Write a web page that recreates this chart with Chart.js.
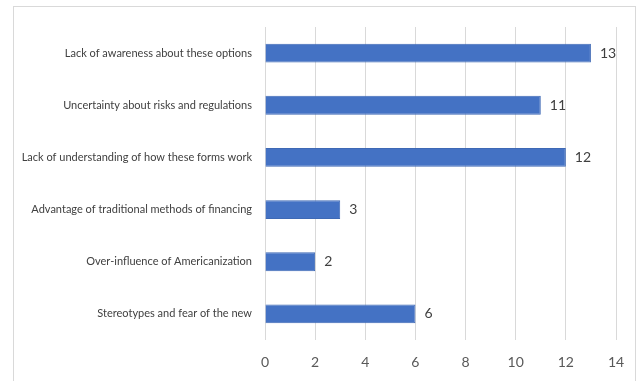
<!DOCTYPE html>
<html>
<head>
<meta charset="utf-8">
<script src="https://cdn.jsdelivr.net/npm/chart.js@4"></script>
<style>
  html, body { margin: 0; padding: 0; background: #fff; }
  #wrap { position: relative; width: 640px; height: 381px; overflow: hidden; }
  #frame { position: absolute; left: 13px; top: 6px; width: 623px; height: 400px; border: 1px solid #d9d9d9; box-sizing: border-box; }
  canvas { position: absolute; left: 0; top: 0; }
</style>
</head>
<body>
<div id="wrap">
  <div id="frame"></div>
  <canvas id="myChart" width="640" height="381"></canvas>
</div>
<script>
var categories = [
  'Lack of awareness about these options',
  'Uncertainty about risks and regulations',
  'Lack of understanding of how these forms work',
  'Advantage of traditional methods of financing',
  'Over-influence of Americanization',
  'Stereotypes and fear of the new'
];
var counts = [13, 11, 12, 3, 2, 6];
var xTicks = [0, 2, 4, 6, 8, 10, 12, 14];

const fontName = "Lato, sans-serif";

// draw the value next to each bar, no datalabels plugin available offline
const barValues = {
  id: 'barValues',
  afterDatasetsDraw(chart) {
    const c = chart.ctx;
    c.save();
    c.font = '14px ' + fontName;
    c.fillStyle = '#404040';
    c.textBaseline = 'middle';
    c.textAlign = 'left';
    chart.getDatasetMeta(0).data.forEach((bar, i) => {
      c.fillText(counts[i], bar.x + 9, bar.y);
    });
    c.restore();
  }
};

const ctx = document.getElementById('myChart').getContext('2d');
const myChart = new Chart(ctx, {
  type: 'bar',
  data: {
    labels: categories,
    datasets: [{
      data: counts,
      backgroundColor: '#4472C4',
      borderColor: '#3e69b5',
      borderWidth: 1,
      barPercentage: 0.36,
      categoryPercentage: 1
    }]
  },
  plugins: [barValues],
  options: {
    indexAxis: 'y',
    responsive: false,
    animation: false,
    layout: { padding: { top: 27, right: 24, left: 0, bottom: 0 } },
    plugins: {
      legend: { display: false },
      tooltip: { enabled: false }
    },
    scales: {
      x: {
        min: 0,
        max: 14,
        afterBuildTicks: (axis) => { axis.ticks = xTicks.map(v => ({ value: v })); },
        afterFit: (axis) => { axis.height = 41; },
        grid: { color: '#d9d9d9', drawTicks: false },
        border: { display: false },
        ticks: { color: '#595959', padding: 14, font: { size: 14, family: fontName } }
      },
      y: {
        afterFit: (axis) => { axis.width = 265; },
        grid: { display: false, drawTicks: false },
        border: { display: false },
        ticks: { color: '#404040', padding: 13, font: { size: 11, family: fontName } }
      }
    }
  }
});
</script>
</body>
</html>
